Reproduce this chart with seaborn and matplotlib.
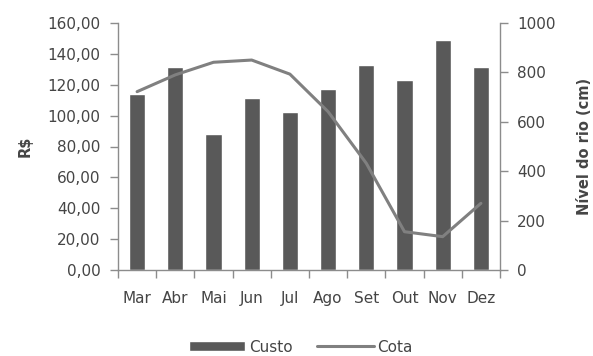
import numpy as np
import pandas as pd
import matplotlib
matplotlib.use("Agg")
import matplotlib.pyplot as plt
import seaborn as sns
from matplotlib.ticker import FuncFormatter, FixedLocator, NullFormatter

months = ["Mar", "Abr", "Mai", "Jun", "Jul", "Ago", "Set", "Out", "Nov", "Dez"]
custo = [114.0, 131.5, 88.0, 111.2, 102.3, 117.0, 132.8, 122.8, 148.7, 131.5]
cota = [722, 790, 841, 850, 793, 641, 432, 155, 135, 270]

sns.set_theme(style="white")
plt.rcParams["font.family"] = ["DejaVu Sans"]

bar_color = "#595959"
line_color = "#808080"
axis_color = "#8c8c8c"
text_color = "#454545"
fs = 11.0

df = pd.DataFrame({"Mês": months, "Custo": custo, "Cota": cota})

fig = plt.figure(figsize=(5.93, 3.56), dpi=100)
ax = fig.add_axes([118/593, 1 - 270/356, (500-118)/593, (270-23)/356])

sns.barplot(data=df, x="Mês", y="Custo", ax=ax, color=bar_color, width=0.42,
            saturation=1, label="Custo")
ax.set_xlim(-0.5, len(months) - 0.5)
ax.set_ylim(0, 160)
ax.set_yticks(np.arange(0, 161, 20))
ax.yaxis.set_major_formatter(FuncFormatter(lambda v, p: f"{v:.2f}".replace(".", ",")))
ax.set_xlabel("")
ax.set_ylabel("R$", fontsize=10.5, fontweight="bold", color=text_color, labelpad=11)

ax2 = ax.twinx()
xpos = np.arange(len(months))
sns.lineplot(x=xpos, y=df["Cota"], ax=ax2, color=line_color, linewidth=2.2, label="Cota")
ax2.set_ylim(0, 1000)
ax2.set_yticks(np.arange(0, 1001, 200))
ax2.set_ylabel("Nível do rio (cm)", fontsize=10.5, fontweight="bold", color=text_color, labelpad=15)
ax2.set_xlim(-0.5, len(months) - 0.5)

for a in (ax, ax2):
    for s in a.spines.values():
        s.set_color(axis_color)
        s.set_linewidth(1.0)
    a.spines["top"].set_visible(False)
    a.tick_params(axis="y", direction="out", length=5.5, width=1, color=axis_color,
                  labelsize=fs, labelcolor=text_color, pad=7)
ax.spines["right"].set_visible(False)
ax2.spines["left"].set_visible(False)
ax2.spines["bottom"].set_visible(False)

# x ticks: labels at centers, tick marks between categories
ax.set_xticks(xpos)
ax.set_xticklabels(months)
ax.tick_params(axis="x", which="major", length=0, labelsize=fs, labelcolor=text_color, pad=15)
ax.xaxis.set_minor_locator(FixedLocator(np.arange(-0.5, len(months), 1.0)))
ax.xaxis.set_minor_formatter(NullFormatter())
ax.tick_params(axis="x", which="minor", direction="out", length=5.5, width=1, color=axis_color, bottom=True)

h1, l1 = ax.get_legend_handles_labels()
h2, l2 = ax2.get_legend_handles_labels()
for a in (ax, ax2):
    if a.get_legend():
        a.get_legend().remove()
fig.legend(h1[:1] + h2[:1], ["Custo", "Cota"], loc="center", bbox_to_anchor=(0.507, 9/356),
           ncol=2, frameon=False, handlelength=3.7, handleheight=0.6, columnspacing=1.6,
           handletextpad=0.25, fontsize=fs, labelcolor=text_color, borderpad=0.1)

fig.savefig("out.png", dpi=100)
